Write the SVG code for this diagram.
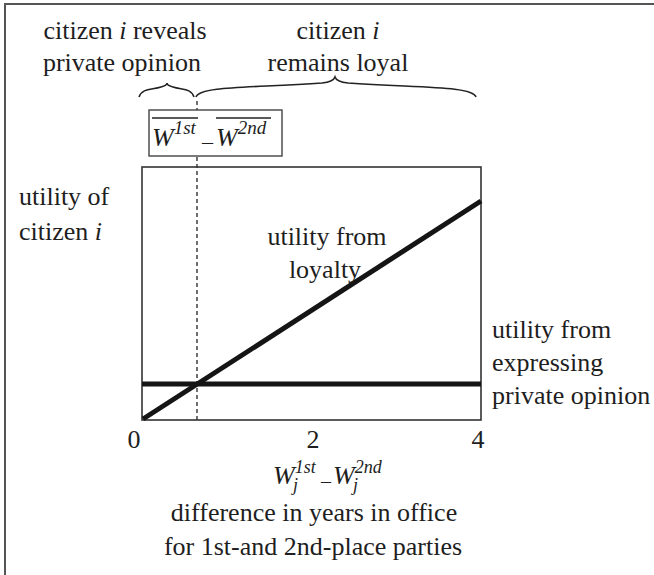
<svg xmlns="http://www.w3.org/2000/svg" width="654" height="575" viewBox="0 0 654 575">
<defs>
<style>
text{font-family:"Liberation Serif","Times New Roman",serif;font-size:26px;fill:#1e1e1e}
.c{text-anchor:middle}
.it{font-style:italic}
.frame{fill:none;stroke:#555;stroke-width:2}
.box{fill:none;stroke:#333;stroke-width:1.6}
.thick{stroke:#151515;stroke-width:5;fill:none}
.brace{fill:none;stroke:#222;stroke-width:1.6}
.dash{stroke:#222;stroke-width:1.3;stroke-dasharray:4 3}
.ovl{stroke:#222;stroke-width:1.4}
</style>
</defs>
<rect width="654" height="575" fill="#fff"/>
<path class="frame" d="M5,575 V4 H654"/>

<g id="top-labels">
<text class="c" x="125" y="39">citizen <tspan class="it">i</tspan> reveals</text>
<text class="c" x="122" y="71">private opinion</text>
<text class="c" x="338" y="39">citizen <tspan class="it">i</tspan></text>
<text class="c" x="338" y="71">remains loyal</text>
</g>

<g id="connectors">
<path class="brace" d="M139,97 C142,88 152,90 161,87 C165,86 167,85 167,83 C167,85 169,86 173,87 C182,90 191,88 194,97"/>
<path class="brace" d="M196,97 C200,86 250,88 322,83 C331,82 334,80 335,77 C336,80 339,82 348,83 C420,88 472,86 476,97"/>
<line class="dash" x1="197" y1="101" x2="197" y2="420"/>
</g>

<g id="threshold">
<rect x="149" y="110" width="133" height="46" fill="#fff" stroke="#444" stroke-width="1.4"/>
<text class="it" x="152" y="146" font-size="29">W<tspan font-size="19" dy="-12">1st</tspan><tspan font-size="22" font-style="normal" x="202" dy="15">–</tspan><tspan x="216" dy="-3">W</tspan><tspan font-size="19" dy="-12">2nd</tspan></text>
<line class="ovl" x1="152" y1="118" x2="198" y2="118"/>
<line class="ovl" x1="216" y1="118" x2="271" y2="118"/>
</g>

<g id="plot">
<rect class="box" x="142" y="167" width="339" height="253"/>
<line class="thick" x1="142" y1="384" x2="481" y2="384"/>
<line class="thick" x1="143" y1="419" x2="481" y2="201"/>
<text class="c" x="134" y="448">0</text>
<text class="c" x="313" y="448">2</text>
<text class="c" x="478" y="448">4</text>
</g>

<g id="y-label">
<text x="19" y="205">utility of</text>
<text x="19" y="240">citizen <tspan class="it">i</tspan></text>
</g>

<g id="loyalty-label">
<text class="c" x="327" y="245">utility from</text>
<text class="c" x="325" y="278">loyalty</text>
</g>

<g id="opinion-label">
<text x="492" y="338">utility from</text>
<text x="492" y="371">expressing</text>
<text x="492" y="404">private opinion</text>
</g>

<g id="x-label">
<text class="it" x="273" y="484">W<tspan font-size="18" dy="-11">1st</tspan><tspan font-size="18" x="293" dy="18">j</tspan><tspan font-size="20" font-style="normal" x="321" dy="-3">–</tspan><tspan x="333" dy="-4">W</tspan><tspan font-size="18" dy="-11">2nd</tspan><tspan font-size="18" x="353" dy="18">j</tspan></text>
<text class="c" x="314" y="521">difference in years in office</text>
<text class="c" x="313" y="555">for 1st-and 2nd-place parties</text>
</g>
</svg>
